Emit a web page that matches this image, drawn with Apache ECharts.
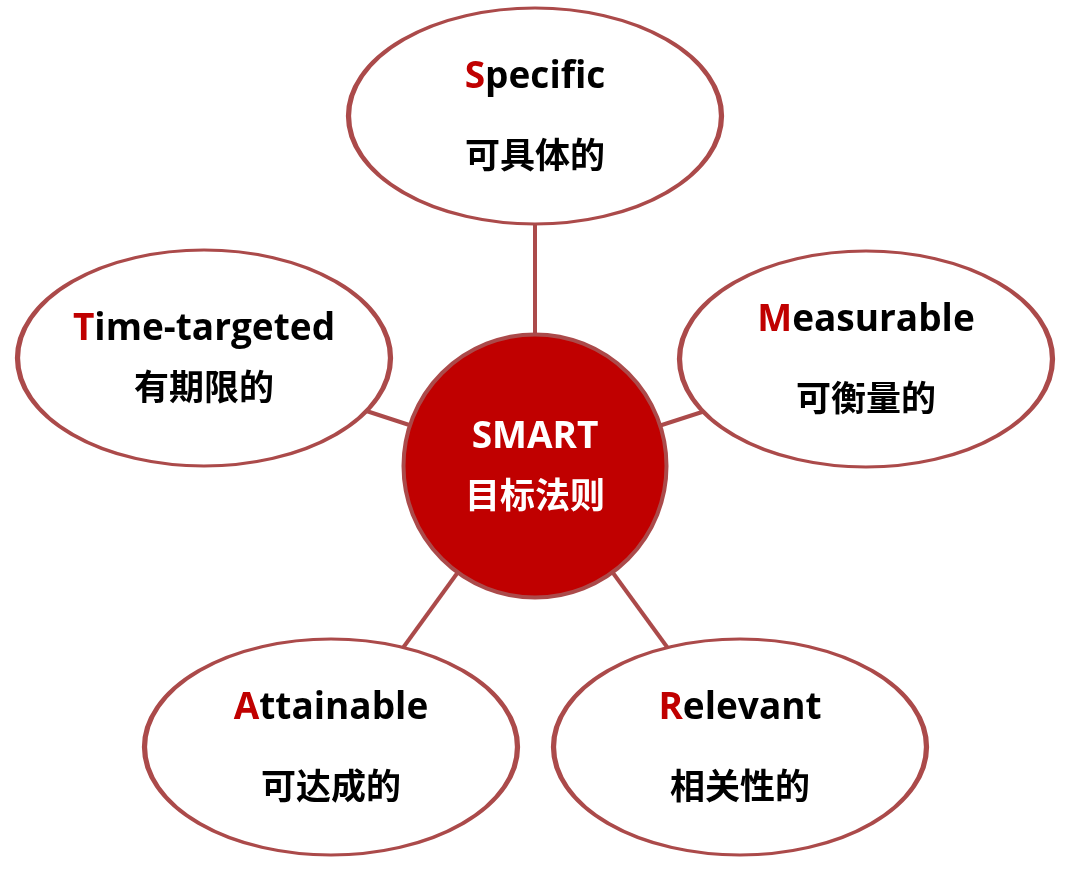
<!DOCTYPE html>
<html>
<head>
<meta charset="utf-8">
<script src="https://cdn.jsdelivr.net/npm/echarts@6/dist/echarts.min.js"></script>
<style>
html,body{margin:0;padding:0;background:#fff;}
#chart{width:1065px;height:870px;}
</style>
</head>
<body>
<div id="chart"></div>
<script>
// ---- diagram content ----
const initials = ['', 'S', 'M', 'R', 'A', 'T'];
const englishRest = ['SMART', 'pecific', 'easurable', 'elevant', 'ttainable', 'ime-targeted'];
const chineseLabels = ['目标法则', '可具体的', '可衡量的', '相关性的', '可达成的', '有期限的'];
// node layout (centre of each shape)
const nodeX = [535, 535, 866, 740, 331, 204];
const nodeY = [466, 116, 359, 747, 747, 358];
// links: centre node to each outer node
const links = [[0, 1], [0, 2], [0, 3], [0, 4], [0, 5]];

const RED = '#C00000';
const EDGE = '#AB4A4A';
const latinFont = "'Open Sans', 'DejaVu Sans', sans-serif";
const cjkFont = "'Noto Sans CJK SC', sans-serif";
const ellipsePath = 'path://M0,50 A50,50 0 1,1 100,50 A50,50 0 1,1 0,50 Z';

const nodes = englishRest.map((rest, i) => {
  const isCenter = i === 0;
  const lh = (isCenter || i === 5) ? 57 : 77;
  const txtColor = isCenter ? '#ffffff' : '#000000';
  return {
    value: [nodeX[i], nodeY[i]],
    symbol: isCenter ? 'circle' : ellipsePath,
    symbolSize: isCenter ? 263 : [373, 216],
    symbolKeepAspect: false,
    itemStyle: {
      color: isCenter ? RED : '#ffffff',
      borderColor: EDGE,
      borderWidth: 4,
      opacity: 1
    },
    label: {
      show: true,
      position: 'inside',
      formatter: (initials[i] ? '{r|' + initials[i] + '}' : '') + '{k|' + rest + '}\n{z|' + chineseLabels[i] + '}',
      rich: {
        r: { color: RED, fontFamily: latinFont, fontWeight: 'bold', fontSize: 37, lineHeight: lh },
        k: { color: txtColor, fontFamily: latinFont, fontWeight: 'bold', fontSize: 37, lineHeight: lh },
        z: { color: txtColor, fontFamily: cjkFont, fontWeight: 'bold', fontSize: 35, lineHeight: lh }
      }
    }
  };
});

const linkData = links.map(([a, b]) => ({
  coords: [[nodeX[a], nodeY[a]], [nodeX[b], nodeY[b]]]
}));

const chart = echarts.init(document.getElementById('chart'), null, { renderer: 'canvas' });
chart.setOption({
  backgroundColor: '#ffffff',
  animation: false,
  grid: { left: 0, right: 0, top: 0, bottom: 0 },
  xAxis: { type: 'value', min: 0, max: 1065, show: false },
  yAxis: { type: 'value', min: 0, max: 870, inverse: true, show: false },
  series: [
    {
      type: 'lines',
      coordinateSystem: 'cartesian2d',
      z: 1,
      silent: true,
      lineStyle: { color: EDGE, width: 4, opacity: 1, curveness: 0 },
      data: linkData
    },
    {
      type: 'scatter',
      z: 2,
      silent: true,
      itemStyle: { opacity: 1 },
      emphasis: { disabled: true },
      data: nodes
    }
  ]
});
</script>
</body>
</html>
